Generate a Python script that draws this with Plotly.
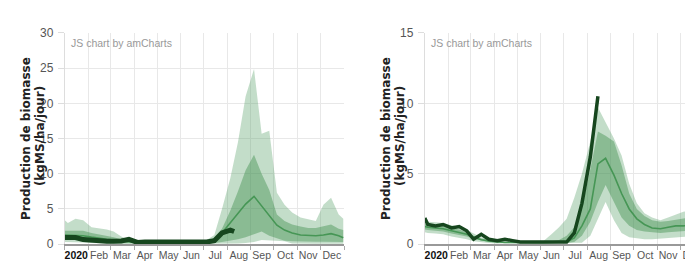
import plotly.graph_objects as go

# ---------------- data ----------------
MONTHS = ["01", "02", "03", "04", "05", "06", "07", "08", "09", "10", "11", "12"]
DEKAD_DAYS = ["05", "15", "25"]
DATES = ["2020-01-01"] + [f"2020-{m}-{d}" for m in MONTHS for d in DEKAD_DAYS] + ["2020-12-31"]

TICK_DATES = ["2020-01-16", "2020-02-15", "2020-03-16", "2020-04-15", "2020-05-16", "2020-06-15",
              "2020-07-16", "2020-08-16", "2020-09-15", "2020-10-16", "2020-11-15", "2020-12-16"]
TICK_LABELS = ["<span style='color:#111'><b>2020</b></span>", "Feb", "Mar", "Apr", "May", "Jun",
               "Jul", "Aug", "Sep", "Oct", "Nov", "Dec"]

Y_TITLE_1 = "Production de biomasse"
Y_TITLE_2 = "(kgMS/ha/jour)"
WATERMARK = "JS chart by amCharts"

# left chart
L_max = [3.4, 3.0, 3.6, 3.4, 2.4, 2.2, 2.1, 1.8, 1.1, 0.6, 0.45, 0.4, 0.35, 0.3, 0.3, 0.3, 0.3, 0.35, 0.4,
         0.6, 1.3, 5.0, 9.4, 14.5, 21.0, 24.9, 15.7, 16.1, 7.3, 5.6, 4.5, 3.8, 3.6, 3.3, 5.6, 6.6, 4.2, 3.6]
L_q3 = [1.9, 1.9, 2.0, 1.9, 1.6, 1.4, 1.2, 1.0, 0.7, 0.5, 0.35, 0.3, 0.3, 0.25, 0.25, 0.25, 0.25, 0.25, 0.3,
        0.4, 0.9, 2.2, 4.8, 7.5, 10.5, 12.7, 10.0, 7.7, 4.2, 3.3, 2.8, 2.5, 2.3, 2.3, 2.6, 2.8, 2.2, 2.0]
L_med = [1.3, 1.3, 1.3, 1.2, 1.0, 0.8, 0.7, 0.6, 0.45, 0.35, 0.25, 0.2, 0.2, 0.15, 0.15, 0.15, 0.15, 0.15, 0.2,
         0.3, 0.6, 1.6, 3.0, 4.3, 5.7, 6.8, 5.4, 4.0, 2.7, 2.0, 1.6, 1.3, 1.2, 1.2, 1.3, 1.5, 1.2, 0.9]
L_q1 = [0.8, 0.8, 0.8, 0.7, 0.5, 0.4, 0.35, 0.3, 0.2, 0.15, 0.1, 0.1, 0.1, 0.1, 0.1, 0.1, 0.1, 0.1, 0.1,
        0.1, 0.15, 0.3, 0.5, 0.7, 1.0, 1.4, 1.8, 1.2, 0.8, 0.5, 0.4, 0.35, 0.35, 0.35, 0.35, 0.35, 0.35, 0.3]
L_min = [0.3, 0.3, 0.3, 0.25, 0.15, 0.1, 0.05, 0.05, 0, 0, 0, 0, 0, 0, 0, 0, 0, 0, 0,
         0, 0, 0, 0.05, 0.1, 0.15, 0.3, 0.6, 0.5, 0.5, 0.4, 0.1, 0.05, 0.05, 0.05, 0.05, 0.05, 0.05, 0.05]
L_cur_dates = DATES[:23] + ["2020-08-10"]
L_cur = [0.95, 0.95, 0.95, 0.65, 0.5, 0.45, 0.4, 0.4, 0.45, 0.7, 0.25, 0.3, 0.3, 0.2, 0.15, 0.15, 0.15,
         0.15, 0.2, 0.3, 0.5, 1.6, 2.0, 1.8]

# right chart
R_max = [1.65, 1.6, 1.55, 1.5, 1.35, 1.25, 1.0, 0.75, 0.5, 0.35, 0.25, 0.2, 0.2, 0.2, 0.2, 0.2, 0.25, 0.7, 1.2,
         1.8, 3.3, 5.0, 7.3, 9.7, 8.7, 7.5, 6.3, 4.3, 2.9, 2.2, 1.9, 1.7, 1.9, 2.1, 2.3, 2.4, 2.4, 2.4]
R_q3 = [1.45, 1.4, 1.35, 1.3, 1.15, 1.05, 0.85, 0.6, 0.4, 0.28, 0.2, 0.15, 0.15, 0.15, 0.15, 0.15, 0.15, 0.2, 0.3,
        0.6, 1.2, 2.6, 5.3, 8.0, 7.7, 7.3, 5.6, 3.6, 2.5, 2.0, 1.7, 1.6, 1.65, 1.75, 1.8, 1.9, 1.9, 1.9]
R_med = [1.25, 1.2, 1.15, 1.1, 0.95, 0.85, 0.7, 0.5, 0.32, 0.22, 0.15, 0.12, 0.12, 0.1, 0.1, 0.1, 0.1, 0.12, 0.15,
         0.15, 0.45, 1.3, 2.5, 5.7, 6.1, 4.9, 3.6, 2.5, 1.8, 1.4, 1.15, 1.1, 1.2, 1.3, 1.3, 1.35, 1.35, 1.35]
R_q1 = [1.05, 1.0, 0.95, 0.9, 0.75, 0.65, 0.55, 0.38, 0.25, 0.15, 0.1, 0.08, 0.08, 0.08, 0.08, 0.08, 0.08, 0.08, 0.08,
        0.08, 0.15, 0.6, 1.6, 3.0, 4.2, 3.0, 1.9, 1.3, 1.0, 0.9, 0.85, 0.8, 0.85, 0.9, 0.95, 1.0, 1.0, 1.0]
R_min = [0.85, 0.8, 0.75, 0.7, 0.55, 0.45, 0.35, 0.2, 0.12, 0.08, 0.05, 0.05, 0.05, 0.05, 0.05, 0.05, 0.05, 0.05, 0.05,
         0.05, 0.05, 0.1, 0.6, 1.8, 3.0, 1.7, 0.8, 0.5, 0.4, 0.35, 0.35, 0.4, 0.45, 0.5, 0.55, 0.6, 0.6, 0.6]
R_cur_dates = DATES[:24]
R_cur = [1.85, 1.4, 1.3, 1.4, 1.15, 1.25, 0.95, 0.35, 0.7, 0.35, 0.25, 0.35, 0.25, 0.15, 0.15, 0.15, 0.15,
         0.15, 0.15, 0.15, 0.8, 2.9, 6.2, 10.5]

# ---------------- styling ----------------
W, H = 693, 264
LIGHT_FILL = "rgba(90,160,105,0.36)"
DARK_FILL = "rgba(60,140,75,0.42)"
MED_COLOR = "rgb(70,150,85)"
CUR_COLOR = "#16461e"
GRID = "#e8e8e8"
TICK_FONT = dict(family="Liberation Sans, Arial, sans-serif", size=12, color="#555")
XTICK_FONT = dict(family="Liberation Sans, Arial, sans-serif", size=10.5, color="#555")

fig = go.Figure()


def add_chart(xa, ya, mn, q1, med, q3, mx, cur_x, cur_y, cur_w):
    common = dict(x=DATES, xaxis=xa, yaxis=ya, mode="lines", showlegend=False, hoverinfo="skip")
    fig.add_trace(go.Scatter(y=mn, line=dict(width=0, color=LIGHT_FILL), **common))
    fig.add_trace(go.Scatter(y=mx, line=dict(width=0, color=LIGHT_FILL), fill="tonexty",
                             fillcolor=LIGHT_FILL, **common))
    fig.add_trace(go.Scatter(y=q1, line=dict(width=0, color=DARK_FILL), **common))
    fig.add_trace(go.Scatter(y=q3, line=dict(width=0, color=DARK_FILL), fill="tonexty",
                             fillcolor=DARK_FILL, **common))
    fig.add_trace(go.Scatter(y=med, line=dict(width=1.6, color=MED_COLOR), **common))
    fig.add_trace(go.Scatter(x=cur_x, y=cur_y, xaxis=xa, yaxis=ya, mode="lines", showlegend=False,
                             hoverinfo="skip", line=dict(width=cur_w, color=CUR_COLOR)))


add_chart("x", "y", L_min, L_q1, L_med, L_q3, L_max, L_cur_dates, L_cur, 5)
add_chart("x2", "y2", R_min, R_q1, R_med, R_q3, R_max, R_cur_dates, R_cur, 3.5)

y_dom = [1 - 242 / H, 1 - 19 / H]


def xaxis_cfg(dom, rng):
    return dict(
        domain=dom, type="date", range=rng,
        tickmode="array", tickvals=TICK_DATES, ticktext=TICK_LABELS, tickangle=0,
        ticks="", showgrid=False, tickfont=XTICK_FONT, ticklabeloverflow="allow",
        showline=True, linecolor="#999", linewidth=1.5, zeroline=False,
        minor=dict(dtick="M1", tick0="2020-01-01", showgrid=True, gridcolor=GRID, gridwidth=1,
                   ticks="outside", ticklen=4, tickcolor="#aaa"),
    )


def yaxis_cfg(anchor, ymax):
    return dict(
        domain=y_dom, anchor=anchor, range=[0, ymax], dtick=5, tick0=0,
        showgrid=True, gridcolor=GRID, zeroline=False,
        showline=True, linecolor="#dddddd", linewidth=1,
        ticks="outside", ticklen=6, tickcolor="#dddddd", tickfont=TICK_FONT,
        ticklabelstandoff=2,
    )


fig.update_layout(
    width=W, height=H, margin=dict(l=0, r=0, t=0, b=0),
    paper_bgcolor="white", plot_bgcolor="white",
    xaxis=dict(anchor="y", **xaxis_cfg([57 / W, 337 / W], ["2020-01-01", "2021-01-01"])),
    yaxis=yaxis_cfg("x", 30),
    xaxis2=dict(anchor="y2", **xaxis_cfg([418 / W, 1.0], ["2020-01-01", "2020-12-25 12:00"])),
    yaxis2=yaxis_cfg("x2", 15),
)

title_font = dict(family="DejaVu Sans, Verdana, sans-serif", size=12, color="#222")
wm_font = dict(family="Liberation Sans, Arial, sans-serif", size=10.5, color="#999")
for axis_x in (57, 418):
    fig.add_annotation(xref="paper", yref="paper", x=(axis_x - 39) / W, y=1 - 130 / H,
                       text=f"<b>{Y_TITLE_1}</b>", textangle=-90, showarrow=False,
                       xanchor="center", yanchor="middle", font=title_font)
    fig.add_annotation(xref="paper", yref="paper", x=(axis_x - 25) / W, y=1 - 128 / H,
                       text=f"<b>{Y_TITLE_2}</b>", textangle=-90, showarrow=False,
                       xanchor="center", yanchor="middle", font=title_font)
    fig.add_annotation(xref="paper", yref="paper", x=(axis_x + 4) / W, y=1 - 30 / H,
                       text=WATERMARK, showarrow=False, xanchor="left", yanchor="middle",
                       font=wm_font)

fig.write_html("out.html")
